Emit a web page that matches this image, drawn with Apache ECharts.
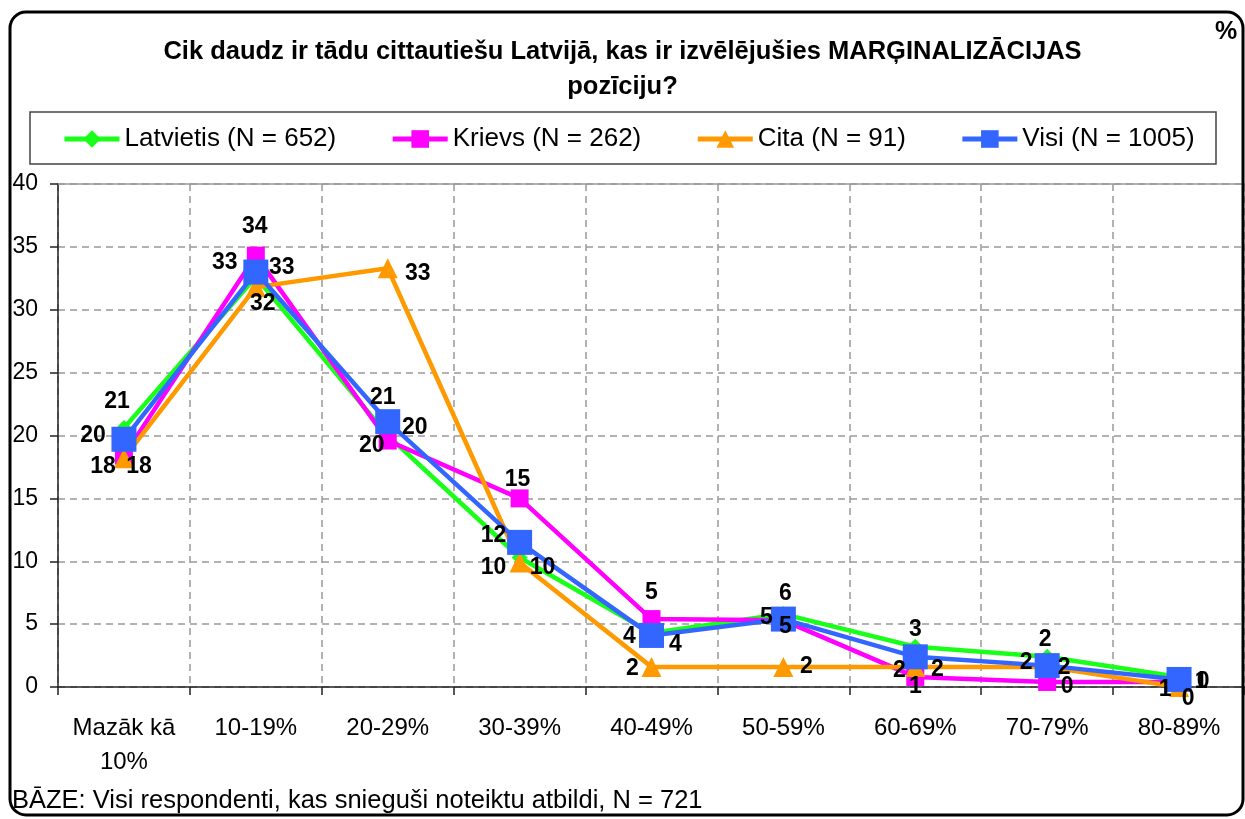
<!DOCTYPE html>
<html>
<head>
<meta charset="utf-8">
<title>Marginalizācija</title>
<script src="https://cdn.jsdelivr.net/npm/echarts@6/dist/echarts.min.js"></script>
<style>
  html, body { margin: 0; padding: 0; background: #fff; }
  #chart { width: 1245px; height: 819px; }
</style>
</head>
<body>
<div id="chart"></div>
<script>
const categories = ['Mazāk kā\n10%', '10-19%', '20-29%', '30-39%', '40-49%', '50-59%', '60-69%', '70-79%', '80-89%']
const yTicks = [0, 5, 10, 15, 20, 25, 30, 35, 40]

const latvietis = [20.6, 32.6, 20.0, 10.3, 4.3, 5.8, 3.2, 2.4, 0.8]
const krievs = [18.4, 34.3, 19.6, 15.0, 5.4, 5.3, 0.8, 0.4, 0.4]
const cita = [18.2, 31.8, 33.3, 9.9, 1.6, 1.6, 1.6, 1.6, 0.0]
const visi = [19.7, 33.0, 21.1, 11.5, 4.1, 5.4, 2.4, 1.7, 0.6]

// where each value label sits around its point (dx, dy)
const latvietisLabels = [[-7, -26], [-31, -14], [27, -8], [-26, 10], [-22, 4], [2, -20], [0, -17], [-2, -17], [22, 5]]
const krievsLabels = [[-21, 11], [-1, -29], [-16, 5], [-2, -19], [0, -26], [-17, -3], [0, 10], [20, 5], [24, 0]]
const citaLabels = [[15, 9], [7, 17], [30, 5], [23, 5], [-19, 2], [23, 0], [-16, 4], [-21, -4], [9, 12]]
const visiLabels = [[-31, -4], [26, -4], [-5, -24], [-26, -7], [24, 9], [2, 8], [22, 13], [17, 2], [-14, 10]]

const font = '"Liberation Sans", Arial, sans-serif'

const makeSeries = (name, values, offsets, color, symbol, size) => ({
  name: name,
  type: 'line',
  data: values.map((v, i) => ({
    value: v,
    label: { offset: offsets[i] }
  })),
  symbol: symbol,
  symbolSize: size,
  showAllSymbol: true,
  itemStyle: { color: color },
  lineStyle: { color: color, width: 4.5 },
  label: {
    show: true,
    position: 'inside',
    formatter: p => Math.round(p.value),
    color: '#000',
    fontFamily: font,
    fontWeight: 'bold',
    fontSize: 23
  },
  emphasis: { disabled: true }
})

const chart = echarts.init(document.getElementById('chart'), null, { renderer: 'canvas' })

const option = {
  animation: false,
  backgroundColor: '#fff',
  title: {
    text: 'Cik daudz ir tādu cittautiešu Latvijā, kas ir izvēlējušies MARĢINALIZĀCIJAS\npozīciju?',
    left: 'center',
    top: 34,
    padding: 0,
    textStyle: {
      fontFamily: font,
      fontWeight: 'bold',
      fontSize: 25.5,
      lineHeight: 35,
      color: '#000'
    }
  },
  legend: {
    left: 62,
    top: 126,
    padding: 0,
    itemWidth: 55,
    itemHeight: 22,
    itemGap: 54,
    lineStyle: { width: 5 },
    textStyle: { fontFamily: font, fontSize: 26, color: '#000' },
    data: ['Latvietis (N = 652)', 'Krievs (N = 262)', 'Cita (N = 91)', 'Visi (N = 1005)']
  },
  grid: {
    left: 58,
    right: -1,
    top: 184,
    bottom: 132,
    containLabel: false
  },
  xAxis: [
    {
      type: 'category',
      data: categories,
      boundaryGap: true,
      axisLine: { lineStyle: { color: '#222', width: 1.5 } },
      axisTick: { show: true, length: 8, inside: false, lineStyle: { color: '#222', width: 1.5 } },
      axisLabel: {
        interval: 0,
        margin: 24,
        fontFamily: font,
        fontSize: 24,
        lineHeight: 34,
        color: '#000'
      },
      splitLine: { show: true, lineStyle: { color: '#999', type: [7, 5], width: 1.5 } }
    },
    {
      type: 'category',
      data: categories,
      position: 'top',
      axisLine: { lineStyle: { color: '#999', width: 1.5 } },
      axisTick: { show: false },
      axisLabel: { show: false },
      splitLine: { show: false }
    }
  ],
  yAxis: {
    type: 'value',
    min: yTicks[0],
    max: yTicks[yTicks.length - 1],
    interval: 5,
    axisLine: { show: true, lineStyle: { color: '#222', width: 1.5 } },
    axisTick: { show: true, length: 8, lineStyle: { color: '#222', width: 1.5 } },
    axisLabel: { margin: 20, fontFamily: font, fontSize: 23, color: '#000' },
    splitLine: { show: true, lineStyle: { color: '#999', type: [7, 5], width: 1.5 } }
  },
  graphic: [
    {
      type: 'rect',
      z: 100,
      shape: { x: 30, y: 112, width: 1186, height: 52 },
      style: { fill: 'none', stroke: '#444', lineWidth: 1.5 }
    },
    {
      type: 'rect',
      z: 100,
      shape: { x: 10, y: 12, width: 1233, height: 803, r: 16 },
      style: { fill: 'none', stroke: '#000', lineWidth: 3 }
    },
    {
      type: 'text',
      z: 100,
      left: 1215,
      top: 20,
      style: { text: '%', font: 'bold 25px ' + font, fill: '#000' }
    },
    {
      type: 'text',
      z: 100,
      left: 12,
      top: 788,
      style: { text: 'BĀZE: Visi respondenti, kas snieguši noteiktu atbildi, N = 721', font: '25.5px ' + font, fill: '#000' }
    }
  ],
  series: [
    makeSeries('Latvietis (N = 652)', latvietis, latvietisLabels, '#1aff1a', 'diamond', 16),
    makeSeries('Krievs (N = 262)', krievs, krievsLabels, '#ff00ff', 'rect', 18),
    makeSeries('Cita (N = 91)', cita, citaLabels, '#ff9900', 'triangle', 20),
    makeSeries('Visi (N = 1005)', visi, visiLabels, '#3366ff', 'rect', 25)
  ]
}

chart.setOption(option)
window.addEventListener('resize', chart.resize)
</script>
</body>
</html>
